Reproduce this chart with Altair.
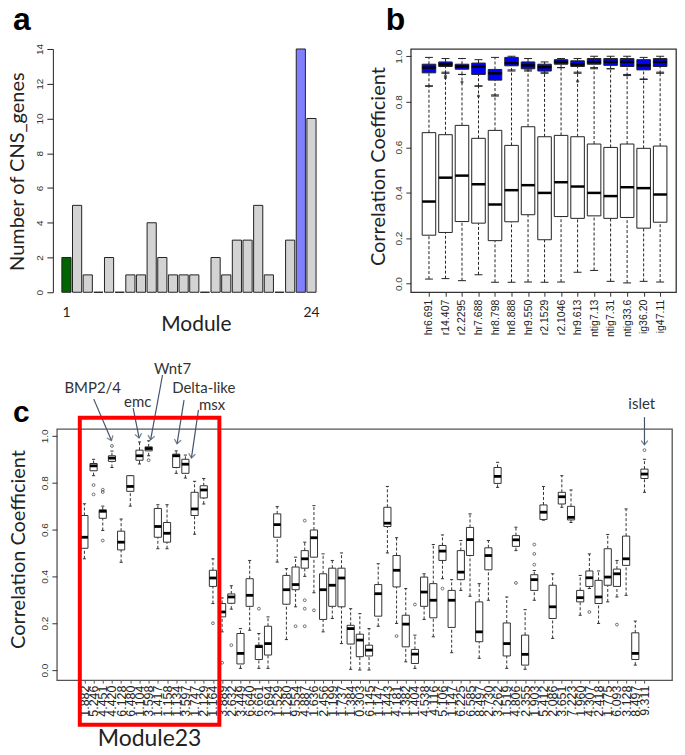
import json
import math
import altair as alt
import pandas as pd

# ---------------- data ----------------
# panel a : number of CNS genes per module
a_modules = list(range(1, 25))
a_counts = [2, 5, 1, 0, 2, 0, 1, 1, 4, 2, 1, 1, 1, 0, 2, 1, 3, 3, 5, 1, 0, 3, 14, 10]
a_highlight = {1: "#006400", 23: "#8080ff"}

# panel b : correlation coefficients per scaffold (white = all genes, blue = module genes)
b_labels = ["hr6.691", "r14.407", "r2.2295", "hr7.688", "hr8.798", "hr8.888", "hr9.550",
            "r2.1529", "r2.1046", "hr9.613", "ntig7.13", "ntig7.31", "ntig33.6", "ig36.20", "ig47.11"]
bw_lo = [0.020, 0.022, 0.013, 0.039, 0.006, 0.006, 0.007, 0.006, 0.007, 0.050, 0.058, 0.010, 0.003, 0.010, 0.007]
bw_q1 = [0.213, 0.225, 0.273, 0.266, 0.189, 0.272, 0.303, 0.193, 0.295, 0.287, 0.298, 0.287, 0.291, 0.244, 0.270]
bw_med = [0.361, 0.466, 0.475, 0.437, 0.348, 0.411, 0.433, 0.399, 0.446, 0.427, 0.399, 0.385, 0.424, 0.420, 0.392]
bw_q3 = [0.664, 0.655, 0.696, 0.639, 0.674, 0.608, 0.690, 0.646, 0.652, 0.646, 0.614, 0.599, 0.614, 0.595, 0.605]
bw_hi = [0.870, 0.930, 0.920, 0.870, 0.830, 0.940, 0.940, 0.930, 0.950, 0.930, 0.950, 0.945, 0.920, 0.900, 0.930]
bb_lo = [0.868, 0.925, 0.920, 0.868, 0.825, 0.935, 0.935, 0.925, 0.950, 0.925, 0.945, 0.945, 0.915, 0.898, 0.925]
bb_q1 = [0.927, 0.955, 0.943, 0.920, 0.895, 0.958, 0.945, 0.935, 0.965, 0.955, 0.965, 0.960, 0.955, 0.940, 0.955]
bb_med = [0.950, 0.965, 0.955, 0.955, 0.925, 0.970, 0.960, 0.952, 0.975, 0.965, 0.975, 0.975, 0.975, 0.960, 0.975]
bb_q3 = [0.965, 0.975, 0.965, 0.970, 0.942, 0.995, 0.975, 0.965, 0.985, 0.980, 0.990, 0.990, 0.990, 0.985, 0.990]
bb_hi = [0.995, 0.990, 0.990, 0.985, 0.995, 1.000, 0.990, 0.975, 0.990, 0.990, 1.000, 1.000, 1.000, 0.995, 1.000]
bb_out_idx = [2, 2, 3, 4, 10]
bb_out_val = [0.914, 0.906, 0.887, 0.825, 0.890]

# panel c : module 23 genes and others
c_labels = ["1.882", "5.246", "4.451", "4.420", "6.128", "6.480", "1.104", "3.598", "1.417", "1.158",
            "1.134", "3.597", "1.747", "2.129", "1.164", "3.889", "2.632", "3.449", "6.640", "6.661",
            "3.694", "1.529", "1.280", "9.554", "4.887", "1.636", "2.456", "1.199", "1.737", "1.384",
            "0.303", "6.145", "1.147", "1.443", "4.181", "1.382", "1.404", "4.538", "4.116", "5.106",
            "1.147", "6.225", "6.585", "8.497", "2.730", "3.262", "1.519", "4.806", "2.355", "1.903",
            "5.412", "2.086", "3.651", "7.223", "1.960", "4.307", "2.418", "1.775", "6.093", "3.128",
            "8.497", "9.311"]
c_lo = [0.475, 0.830, 0.596, 0.865, 0.460, 0.700, 0.880, 0.915, 0.518, 0.518, 0.840, 0.820, 0.580, 0.709, 0.284,
        0.163, 0.260, 0.007, 0.170, 0.007, 0.007, 0.461, 0.130, 0.270, 0.400, 0.330, 0.163, 0.220, 0.113, 0.003,
        0.000, 0.000, 0.187, 0.500, 0.199, 0.035, 0.007, 0.216, 0.142, 0.390, 0.074, 0.340, 0.315, 0.050, 0.298,
        0.780, 0.007, 0.510, 0.003, 0.298, 0.640, 0.135, 0.695, 0.630, 0.234, 0.348, 0.199, 0.291, 0.312, 0.319,
        0.021, 0.759]
c_q1 = [0.520, 0.851, 0.648, 0.891, 0.513, 0.763, 0.896, 0.936, 0.567, 0.546, 0.865, 0.840, 0.660, 0.735, 0.357,
        0.227, 0.285, 0.026, 0.272, 0.045, 0.064, 0.567, 0.281, 0.343, 0.435, 0.482, 0.216, 0.272, 0.270, 0.111,
        0.057, 0.060, 0.230, 0.613, 0.355, 0.099, 0.028, 0.272, 0.223, 0.468, 0.182, 0.386, 0.489, 0.121, 0.428,
        0.797, 0.060, 0.528, 0.021, 0.340, 0.643, 0.220, 0.709, 0.641, 0.291, 0.357, 0.284, 0.362, 0.357, 0.447,
        0.045, 0.818]
c_med = [0.567, 0.872, 0.678, 0.905, 0.546, 0.784, 0.915, 0.946, 0.613, 0.584, 0.915, 0.879, 0.688, 0.769, 0.393,
         0.248, 0.312, 0.071, 0.319, 0.100, 0.113, 0.621, 0.343, 0.365, 0.475, 0.565, 0.343, 0.362, 0.393, 0.177,
         0.128, 0.085, 0.326, 0.627, 0.426, 0.196, 0.068, 0.333, 0.298, 0.508, 0.298, 0.418, 0.557, 0.163, 0.489,
         0.827, 0.113, 0.556, 0.067, 0.386, 0.674, 0.270, 0.740, 0.652, 0.309, 0.394, 0.312, 0.397, 0.411, 0.475,
         0.071, 0.837]
c_q3 = [0.660, 0.882, 0.684, 0.915, 0.593, 0.830, 0.939, 0.953, 0.690, 0.630, 0.922, 0.900, 0.759, 0.787, 0.426,
        0.284, 0.325, 0.156, 0.390, 0.106, 0.187, 0.667, 0.404, 0.440, 0.510, 0.598, 0.411, 0.435, 0.435, 0.191,
        0.153, 0.106, 0.365, 0.695, 0.489, 0.234, 0.088, 0.397, 0.369, 0.532, 0.340, 0.510, 0.609, 0.291, 0.522,
        0.865, 0.201, 0.574, 0.149, 0.407, 0.705, 0.362, 0.759, 0.699, 0.340, 0.423, 0.383, 0.518, 0.431, 0.572,
        0.159, 0.858]
c_hi = [0.710, 0.900, 0.700, 0.935, 0.645, 0.830, 0.974, 0.979, 0.706, 0.706, 0.936, 0.918, 0.806, 0.818, 0.475,
        0.308, 0.360, 0.177, 0.468, 0.156, 0.227, 0.698, 0.433, 0.482, 0.546, 0.702, 0.496, 0.468, 0.500, 0.262,
        0.241, 0.177, 0.454, 0.784, 0.565, 0.348, 0.149, 0.411, 0.536, 0.577, 0.386, 0.553, 0.667, 0.369, 0.553,
        0.887, 0.312, 0.610, 0.258, 0.425, 0.784, 0.411, 0.830, 0.769, 0.404, 0.496, 0.423, 0.579, 0.468, 0.688,
        0.209, 0.900]
c_out_idx = [2, 2, 3, 3, 3, 4, 8, 15, 16, 17, 20, 24, 25, 25, 25, 25, 26, 35, 37, 40, 48, 50, 50, 50, 56, 59, 62]
c_out_val = [0.790, 0.750, 0.770, 0.760, 0.553, 0.957, 0.896, 0.200, 0.031, 0.106, 0.262, 0.187, 0.638, 0.298,
             0.262, 0.187, 0.255, 0.145, 0.280, 0.348, 0.372, 0.536, 0.496, 0.450, 0.248, 0.194, 0.939]
module23_first, module23_last = 1, 15

ann_text = ["BMP2/4", "emc", "Wnt7", "Delta-like", "msx", "islet"]
ann_tx = [1.9, 6.8, 10.6, 14.0, 14.9, 61.7]
ann_ty = [1.204, 1.145, 1.285, 1.205, 1.132, 1.136]
arr_x1 = [2.02, 6.31, 9.51, 11.85, 13.42, 62.0]
arr_y1 = [1.157, 1.119, 1.260, 1.153, 1.111, 1.080]
arr_x2 = [3.95, 6.96, 8.21, 11.09, 12.66, 62.0]
arr_y2 = [0.980, 0.991, 0.983, 0.966, 0.906, 0.962]

# ---------------- style ----------------
FONT_T = "Lato"
FONT_L = "Liberation Sans"
INK = "#222222"
ARROW = "#44546a"

A_W, A_H = 265, 244
B_W, B_H = 266, 244
C_W, C_H = 617, 252
B_XDOM, B_YDOM = [-0.1, 15.96], [-0.038, 1.032]
C_XDOM, C_YDOM = [-2, 65], [-0.043, 1.03]


def letter(ch, x, y, size):
    return alt.Chart(pd.DataFrame({"t": [ch]})).mark_text(
        font=FONT_L, fontWeight="bold", fontSize=size, align="left", baseline="top", color="black"
    ).encode(text="t:N", x=alt.value(x), y=alt.value(y))


def title_text(txt, x, y, size, angle=0, baseline="middle"):
    return alt.Chart(pd.DataFrame({"t": [txt]})).mark_text(
        font=FONT_T, fontSize=size, align="center", baseline=baseline, angle=angle, color=INK
    ).encode(text="t:N", x=alt.value(x), y=alt.value(y))


def box_layers(df, xscale, yscale, xaxis, yaxis, half, cap, fill, med_w, stroke=INK):
    def X(f):
        return alt.X(f"{f}:Q", scale=xscale, axis=xaxis)

    def Y(f):
        return alt.Y(f"{f}:Q", scale=yscale, axis=yaxis)

    base = alt.Chart(df).transform_calculate(
        bl=f"datum.idx - {half}", br=f"datum.idx + {half}",
        cl=f"datum.idx - {cap}", cr=f"datum.idx + {cap}")
    dash = [3, 2]
    return [
        base.mark_rule(color=stroke, strokeWidth=1, strokeDash=dash).encode(x=X("idx"), y=Y("q3"), y2=alt.Y2("hi")),
        base.mark_rule(color=stroke, strokeWidth=1, strokeDash=dash).encode(x=X("idx"), y=Y("lo"), y2=alt.Y2("q1")),
        base.mark_rule(color=stroke, strokeWidth=1).encode(x=X("cl"), x2=alt.X2("cr"), y=Y("hi")),
        base.mark_rule(color=stroke, strokeWidth=1).encode(x=X("cl"), x2=alt.X2("cr"), y=Y("lo")),
        base.mark_rect(fill=fill, stroke=stroke, strokeWidth=1).encode(
            x=X("bl"), x2=alt.X2("br"), y=Y("q1"), y2=alt.Y2("q3")),
        base.mark_rule(color="black", strokeWidth=med_w).encode(x=X("bl"), x2=alt.X2("br"), y=Y("med")),
    ]


def y_corr_axis():
    return alt.Axis(title=None, values=[0, 0.2, 0.4, 0.6, 0.8, 1.0], format=".1f",
                    labelAngle=270, labelAlign="center", labelBaseline="bottom", tickSize=5, domain=False,
                    tickColor="#333", labelFont=FONT_L, labelFontSize=10, labelColor="#333", grid=False)


# ---------------- panel a ----------------
dfa = pd.DataFrame({"module": a_modules, "count": a_counts})
dfa["fill"] = [a_highlight.get(m, "#d3d3d3") for m in a_modules]

a_bars = alt.Chart(dfa).mark_bar(stroke=INK, strokeWidth=1).encode(
    x=alt.X("module:O", sort=None, scale=alt.Scale(paddingInner=0.14, paddingOuter=0.47),
            axis=alt.Axis(title=None,
                          labelExpr="datum.value == 1 || datum.value == 24 ? datum.label : ''",
                          labelAngle=0, labelOverlap=False, ticks=False, domain=False, labelPadding=13,
                          labelFont=FONT_T, labelFontSize=14, labelColor=INK)),
    y=alt.Y("count:Q", scale=alt.Scale(domain=[0, 14], nice=False),
            axis=alt.Axis(title=None, values=list(range(0, 15, 2)), labelAngle=270,
                          labelAlign="center", labelBaseline="bottom", tickSize=6, offset=4,
                          domainColor=INK, tickColor=INK, labelFont=FONT_L, labelFontSize=10,
                          labelColor="#333", grid=False)),
    fill=alt.Fill("fill:N", scale=None),
)
chart_a = alt.layer(
    a_bars,
    title_text("Number of CNS_genes", -39, 123, 20, angle=270),
    title_text("Module", 140, 283, 21, baseline="alphabetic"),
    letter("a", -44, -44, 32),
).properties(width=A_W, height=A_H, view=alt.ViewBackground(stroke="transparent"))

# ---------------- panel b ----------------
bx_scale = alt.Scale(domain=B_XDOM, nice=False, zero=False)
by_scale = alt.Scale(domain=B_YDOM, nice=False, zero=False)
b_expr = "%s[datum.value - 1]" % json.dumps(b_labels)
bx_axis = alt.Axis(title=None, values=list(range(1, 16)), labelExpr=b_expr, labelAngle=270,
                   labelAlign="right", labelBaseline="middle", labelOverlap=False, tickSize=4,
                   domain=False, tickColor="#333", labelFont=FONT_L, labelFontSize=10.5,
                   labelColor="#222", labelPadding=3, grid=False)
by_axis = y_corr_axis()

idx_b = list(range(1, 16))
df_bw = pd.DataFrame({"idx": idx_b, "lo": bw_lo, "q1": bw_q1, "med": bw_med, "q3": bw_q3, "hi": bw_hi})
df_bb = pd.DataFrame({"idx": idx_b, "lo": bb_lo, "q1": bb_q1, "med": bb_med, "q3": bb_q3, "hi": bb_hi})
df_bo = pd.DataFrame({"idx": bb_out_idx, "val": bb_out_val})

b_layers = box_layers(df_bw, bx_scale, by_scale, bx_axis, by_axis, 0.41, 0.24, "white", 2.5)
b_layers += box_layers(df_bb, bx_scale, by_scale, bx_axis, by_axis, 0.41, 0.24, "#0000ff", 2.5)
b_layers.append(alt.Chart(df_bo).mark_point(shape="circle", size=10, filled=True, color=INK).encode(
    x=alt.X("idx:Q", scale=bx_scale, axis=bx_axis), y=alt.Y("val:Q", scale=by_scale, axis=by_axis)))
b_layers.append(title_text("Correlation Coefficient", -32, 118, 20, angle=270))
b_layers.append(letter("b", -25, -44, 32))
chart_b = alt.layer(*b_layers).properties(
    width=B_W, height=B_H, view=alt.ViewBackground(stroke="#333", strokeWidth=1.3))

# ---------------- panel c ----------------
cx_scale = alt.Scale(domain=C_XDOM, nice=False, zero=False)
cy_scale = alt.Scale(domain=C_YDOM, nice=False, zero=False)
c_expr = "%s[datum.value - 1]" % json.dumps(c_labels)
cx_axis = alt.Axis(title=None, values=list(range(1, 63)), labelExpr=c_expr, labelAngle=270,
                   labelAlign="right", labelBaseline="middle", labelOverlap=False, tickSize=3,
                   domain=False, tickColor="#555", labelFont=FONT_L, labelFontSize=12.5,
                   labelColor="#222", labelPadding=2, grid=False)
cy_axis = y_corr_axis()


def CX(f):
    return alt.X(f"{f}:Q", scale=cx_scale, axis=cx_axis)


def CY(f):
    return alt.Y(f"{f}:Q", scale=cy_scale, axis=cy_axis)


idx_c = list(range(1, 63))
df_c = pd.DataFrame({"idx": idx_c, "lo": c_lo, "q1": c_q1, "med": c_med, "q3": c_q3, "hi": c_hi})
df_co = pd.DataFrame({"idx": c_out_idx, "val": c_out_val})

# arrow heads: direction in screen pixels
sx = C_W / (C_XDOM[1] - C_XDOM[0])
sy = C_H / (C_YDOM[1] - C_YDOM[0])
angles = []
for x1, y1, x2, y2 in zip(arr_x1, arr_y1, arr_x2, arr_y2):
    dx = (x2 - x1) * sx
    dy = -(y2 - y1) * sy
    angles.append((math.degrees(math.atan2(-dx, dy)) + 360) % 360)
df_arr = pd.DataFrame({"x1": arr_x1, "y1": arr_y1, "x2": arr_x2, "y2": arr_y2, "ang": angles})
df_ann = pd.DataFrame({"t": ann_text, "x": ann_tx, "y": ann_ty})
df_red = pd.DataFrame({"a": [module23_first], "b": [module23_last]})

c_layers = box_layers(df_c, cx_scale, cy_scale, cx_axis, cy_axis, 0.39, 0.17, "white", 2.8, stroke="#333")
c_layers.append(alt.Chart(df_co).mark_point(shape="circle", size=8, filled=False, color="#333",
                                            strokeWidth=1).encode(x=CX("idx"), y=CY("val")))
c_layers.append(alt.Chart(df_arr).mark_rule(color=ARROW, strokeWidth=1.2).encode(
    x=CX("x1"), x2=alt.X2("x2"), y=CY("y1"), y2=alt.Y2("y2")))
c_layers.append(alt.Chart(df_arr).mark_point(
    shape="M-0.8,-1L0,0L0.8,-1", size=70, filled=False, color=ARROW, strokeWidth=1.3).encode(
    x=CX("x2"), y=CY("y2"), angle=alt.Angle("ang:Q", scale=None)))
c_layers.append(alt.Chart(df_ann).mark_text(font=FONT_T, fontSize=15, color="#333", baseline="middle",
                                            align="center").encode(x=CX("x"), y=CY("y"), text="t:N"))
c_layers.append(alt.Chart(df_red).transform_calculate(
    xa="datum.a - 0.5", xb="datum.b + 0.7", ya="1.077", yb="-0.234"
).mark_rect(fill="transparent", stroke="#ff0000", strokeWidth=4).encode(
    x=CX("xa"), x2=alt.X2("xb"), y=CY("ya"), y2=alt.Y2("yb")))
c_layers.append(title_text("Correlation Coefficient", -38, 121, 20, angle=270))
c_layers.append(title_text("Module23", 93, 323, 23, baseline="bottom"))
c_layers.append(letter("c", -44, -31, 30))
chart_c = alt.layer(*c_layers).properties(
    width=C_W, height=C_H, view=alt.ViewBackground(stroke="#555", strokeWidth=1.3))

# ---------------- assemble ----------------
top = alt.hconcat(chart_a, chart_b, spacing=46)
chart = alt.vconcat(top, chart_c, spacing=23).properties(
    padding={"left": -1, "right": 0, "top": -6, "bottom": -4}
).configure(background="white").configure_axis(grid=False)

chart.save("out.html", embed_options={"renderer": "svg", "actions": False})
